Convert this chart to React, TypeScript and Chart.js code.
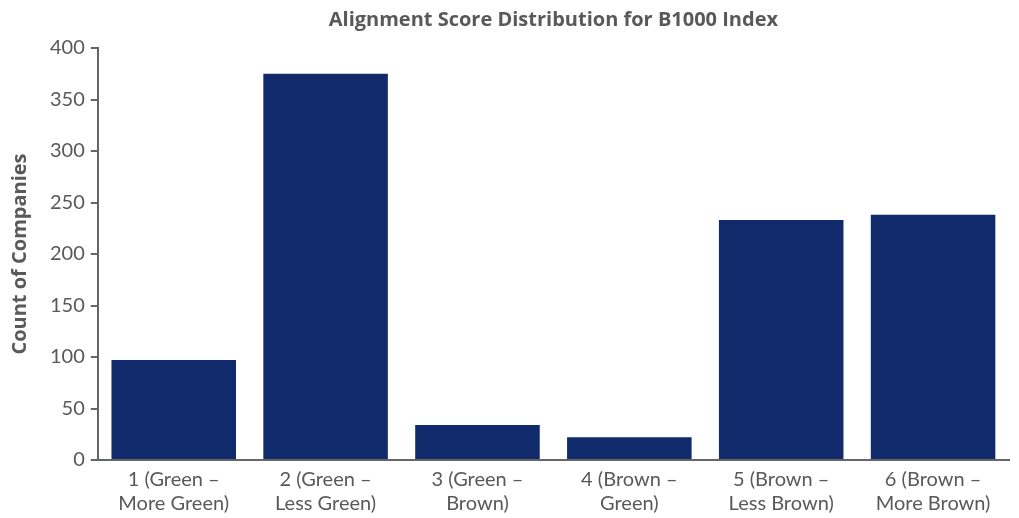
import React, { useEffect, useRef } from "react";
import { Chart, registerables } from "chart.js";

Chart.register(...registerables);

const categories: string[][] = [
  ["1 (Green –", "More Green)"],
  ["2 (Green –", "Less Green)"],
  ["3 (Green –", "Brown)"],
  ["4 (Brown –", "Green)"],
  ["5 (Brown –", "Less Brown)"],
  ["6 (Brown –", "More Brown)"],
];
const counts: number[] = [97, 375, 34, 22, 233, 238];
const titleText = "Alignment Score Distribution for B1000 Index";
const yTitle = "Count of Companies";

export default function App() {
  const ref = useRef<HTMLCanvasElement>(null);
  useEffect(() => {
    if (!ref.current) return;
    const chart = new Chart(ref.current, {
      type: "bar",
      data: {
        labels: categories,
        datasets: [
          {
            data: counts,
            backgroundColor: "#102a6c",
            barPercentage: 0.82,
            categoryPercentage: 1,
          },
        ],
      },
      options: {
        animation: false,
        responsive: true,
        maintainAspectRatio: false,
        layout: { padding: { left: 0, right: 2, top: 0, bottom: -6 } },
        plugins: {
          legend: { display: false },
          tooltip: { enabled: false },
          title: {
            display: true,
            fullSize: false,
            text: titleText,
            color: "#595959",
            font: { family: "Open Sans", size: 20, weight: "bold" },
            padding: { top: 0, bottom: 16 },
          },
        },
        scales: {
          x: {
            grid: { display: true, drawOnChartArea: false, drawTicks: false, color: "#666666", lineWidth: 2 },
            border: { display: true, color: "#666666", width: 2 },
            ticks: {
              color: "#595959",
              font: { family: "Lato", size: 20, lineHeight: 1.2 },
              padding: 8,
              maxRotation: 0,
              autoSkip: false,
            },
          },
          y: {
            min: 0,
            max: 400,
            grid: { display: true, drawOnChartArea: false, drawTicks: true, tickLength: 7, color: "#666666", lineWidth: 2 },
            border: { display: true, color: "#666666", width: 2 },
            ticks: {
              stepSize: 50,
              color: "#595959",
              font: { family: "Lato", size: 20 },
              padding: 6,
            },
            title: {
              display: true,
              text: yTitle,
              color: "#595959",
              font: { family: "Open Sans", size: 20, weight: "bold" },
              padding: { top: 0, bottom: 12 },
            },
          },
        },
      },
    });
    return () => chart.destroy();
  }, []);
  return (
    <div style={{ width: 1003, height: 510 }}>
      <canvas ref={ref} />
    </div>
  );
}
